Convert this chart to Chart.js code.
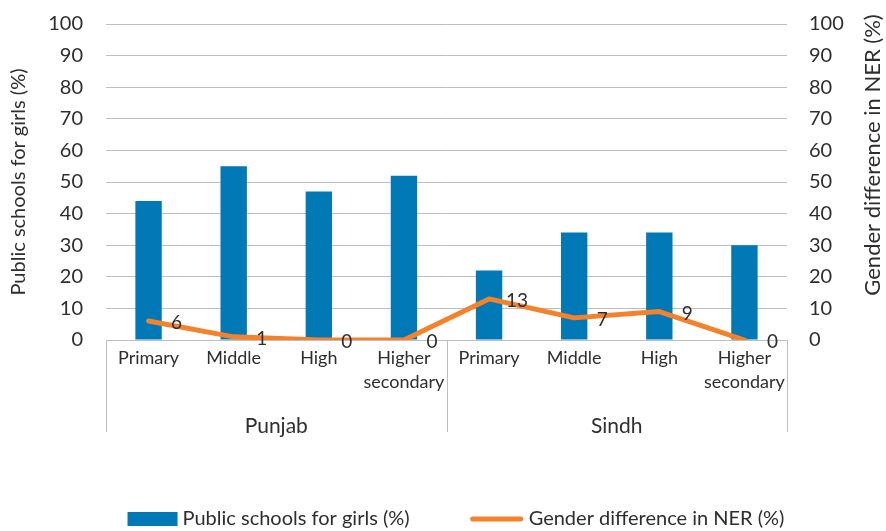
<!DOCTYPE html>
<html>
<head>
<meta charset="utf-8">
<script src="https://cdn.jsdelivr.net/npm/chart.js@4"></script>
<style>
  html, body { margin: 0; padding: 0; background: #ffffff; }
  #wrap { width: 886px; height: 531px; position: relative; }
</style>
</head>
<body>
<div id="wrap"><canvas id="c" width="886" height="531"></canvas></div>
<script>
// ---- data ----
const levels = [["Primary"], ["Middle"], ["High"], ["Higher", "secondary"],
                ["Primary"], ["Middle"], ["High"], ["Higher", "secondary"]];
const provinces = ["Punjab", "Sindh"];
const girlsSchools = [44, 55, 47, 52, 22, 34, 34, 30];
const nerGap = [6, 1, 0, 0, 13, 7, 9, 0];
const yTicks = [0, 10, 20, 30, 40, 50, 60, 70, 80, 90, 100];
const seriesNames = ["Public schools for girls (%)", "Gender difference in NER (%)"];
const axisTitles = ["Public schools for girls (%)", "Gender difference in NER (%)"];

const BLUE = '#0079b6';
const ORANGE = '#f5822a';
const TEXT = '#2e2e2e';
const GRID = '#bfbfbf';
const FONT = 'Lato';

Chart.defaults.font.family = FONT;
Chart.defaults.font.size = 20;
Chart.defaults.color = TEXT;

const extras = {
  id: 'extras',
  afterDatasetsDraw(chart) {
    const ctx = chart.ctx;
    const meta = chart.getDatasetMeta(1);
    ctx.save();
    ctx.font = '19px ' + FONT;
    ctx.fillStyle = TEXT;
    ctx.textAlign = 'center';
    ctx.textBaseline = 'middle';
    meta.data.forEach((pt, i) => {
      ctx.fillText(String(nerGap[i]), pt.x + 28, pt.y + 2);
    });
    ctx.restore();
  },
  afterDraw(chart) {
    const ctx = chart.ctx;
    const x = chart.scales.x;
    const ca = chart.chartArea;
    const mid = (x.getPixelForValue(3) + x.getPixelForValue(4)) / 2;
    ctx.save();
    ctx.strokeStyle = GRID;
    ctx.lineWidth = 1;
    [x.left, mid, x.right].forEach(px => {
      const xx = Math.round(px) + 0.5;
      ctx.beginPath();
      ctx.moveTo(xx, ca.bottom);
      ctx.lineTo(xx, 432);
      ctx.stroke();
    });
    ctx.restore();

    // right axis title (reads bottom to top)
    ctx.save();
    ctx.font = '22px ' + FONT;
    ctx.fillStyle = TEXT;
    ctx.textAlign = 'center';
    ctx.textBaseline = 'middle';
    ctx.translate(873, 155);
    ctx.rotate(-Math.PI / 2);
    ctx.fillText(axisTitles[1], 0, 0);
    ctx.restore();

    // legend
    ctx.save();
    ctx.font = '20px ' + FONT;
    ctx.textBaseline = 'middle';
    ctx.textAlign = 'left';
    const w0 = ctx.measureText(seriesNames[0]).width;
    const w1 = ctx.measureText(seriesNames[1]).width;
    const boxW = 50, gap = 5, itemGap = 61;
    const total = boxW + gap + w0 + itemGap + boxW + gap + 3 + w1;
    let lx = 456 - total / 2;
    const ly = 519;
    ctx.fillStyle = BLUE;
    ctx.fillRect(lx, ly - 7, boxW, 14);
    ctx.fillStyle = TEXT;
    ctx.fillText(seriesNames[0], lx + boxW + gap, ly);
    lx += boxW + gap + w0 + itemGap;
    ctx.strokeStyle = ORANGE;
    ctx.lineWidth = 5;
    ctx.lineCap = 'round';
    ctx.beginPath();
    ctx.moveTo(lx + 2, ly);
    ctx.lineTo(lx + boxW, ly);
    ctx.stroke();
    ctx.fillText(seriesNames[1], lx + boxW + gap + 3, ly);
    ctx.restore();
  }
};

new Chart(document.getElementById('c'), {
  type: 'bar',
  data: {
    labels: levels,
    datasets: [
      {
        type: 'bar',
        label: seriesNames[0],
        data: girlsSchools,
        backgroundColor: BLUE,
        borderWidth: 0,
        categoryPercentage: 1,
        barPercentage: 0.31,
        yAxisID: 'y',
        order: 2
      },
      {
        type: 'line',
        label: seriesNames[1],
        data: nerGap,
        borderColor: ORANGE,
        backgroundColor: ORANGE,
        borderWidth: 5,
        borderCapStyle: 'round',
        borderJoinStyle: 'round',
        pointRadius: 0,
        tension: 0,
        yAxisID: 'y1',
        order: 1
      }
    ]
  },
  options: {
    responsive: false,
    animation: false,
    devicePixelRatio: 1,
    layout: { padding: { top: 24, left: 0, right: 0, bottom: 91 } },
    plugins: {
      legend: { display: false },
      tooltip: { enabled: false }
    },
    scales: {
      x: {
        type: 'category',
        position: 'bottom',
        weight: 0,
        offset: true,
        grid: { display: false, drawTicks: false },
        border: { display: true, color: GRID, width: 1 },
        ticks: { padding: 6, color: TEXT, maxRotation: 0, autoSkip: false,
                 font: { size: 18, lineHeight: 1.35 } },
        afterFit(s) { s.height = 60; s.paddingLeft = 0; s.paddingRight = 0; }
      },
      x2: {
        type: 'category',
        position: 'bottom',
        weight: 1,
        labels: provinces,
        offset: true,
        grid: { display: false, drawTicks: false },
        border: { display: false },
        ticks: { padding: 14, color: TEXT, maxRotation: 0, font: { size: 21 } },
        afterFit(s) { s.height = 40; s.paddingLeft = 0; s.paddingRight = 0; }
      },
      y: {
        position: 'left',
        min: 0, max: 100,
        afterBuildTicks(s) { s.ticks = yTicks.map(v => ({ value: v })); },
        grid: { color: GRID, lineWidth: 1, drawTicks: false },
        border: { display: false },
        ticks: { padding: 23, color: TEXT, font: { size: 20 } },
        title: { display: true, text: axisTitles[0], color: TEXT,
                 font: { size: 20 }, padding: { top: 7, bottom: 0 } },
        afterFit(s) { s.width = 106; s.paddingTop = 0; s.paddingBottom = 0; }
      },
      y1: {
        position: 'right',
        min: 0, max: 100,
        afterBuildTicks(s) { s.ticks = yTicks.map(v => ({ value: v })); },
        grid: { display: false, drawTicks: false },
        border: { display: false },
        ticks: { padding: 22, color: TEXT, font: { size: 20 } },
        afterFit(s) { s.width = 99; s.paddingTop = 0; s.paddingBottom = 0; }
      }
    }
  },
  plugins: [extras]
});
</script>
</body>
</html>
